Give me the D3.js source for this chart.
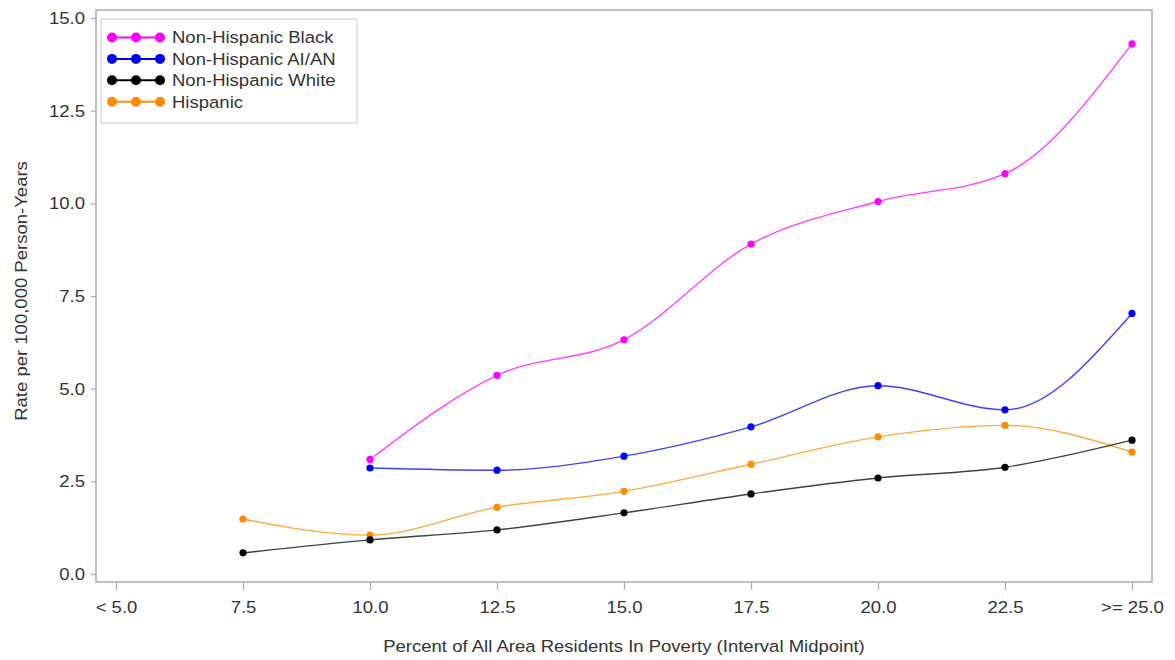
<!DOCTYPE html>
<html>
<head>
<meta charset="utf-8">
<script src="https://cdn.jsdelivr.net/npm/d3@7"></script>
<style>
  html, body { margin: 0; padding: 0; background: #fff; }
  svg { display: block; }
  text { font-family: "Liberation Sans", Arial, sans-serif; fill: #333; }
</style>
</head>
<body>
<svg id="chart" width="1175" height="660"></svg>
<script>
// Poverty interval midpoints (category labels on the x axis)
const categories = ["< 5.0", "7.5", "10.0", "12.5", "15.0", "17.5", "20.0", "22.5", ">= 25.0"];

// Rates per 100,000 person-years, one value per category (null = not reported)
const blackRates    = [null, null, 3.09, 5.36, 6.32, 8.90, 10.05, 10.80, 14.30];
const aianRates     = [null, null, 2.86, 2.80, 3.18, 3.97, 5.08, 4.43, 7.03];
const whiteRates    = [null, 0.57, 0.92, 1.19, 1.65, 2.16, 2.59, 2.88, 3.61];
const hispanicRates = [null, 1.48, 1.05, 1.80, 2.23, 2.96, 3.70, 4.01, 3.29];

const seriesNames  = ["Non-Hispanic Black", "Non-Hispanic AI/AN", "Non-Hispanic White", "Hispanic"];
const seriesValues = [blackRates, aianRates, whiteRates, hispanicRates];
const seriesColors = ["#ff00ff", "#0000ff", "#000000", "#ff8c00"];

const yTickValues = [0, 2.5, 5, 7.5, 10, 12.5, 15];

const xTitle = "Percent of All Area Residents In Poverty (Interval Midpoint)";
const yTitle = "Rate per 100,000 Person-Years";

// ---- layout ----
const frame = { left: 96, top: 10, right: 1152, bottom: 582 };
const stretch = 1.09; // horizontal glyph width factor for all labels
const fontSize = 17;

const svg = d3.select("#chart");

const x = d3.scalePoint()
  .domain(categories)
  .range([frame.left + 20, frame.right - 20]);

const y = d3.scaleLinear()
  .domain([0, 15])
  .range([frame.bottom - 8, frame.top + 8]);

// plot frame
svg.append("rect")
  .attr("x", frame.left).attr("y", frame.top)
  .attr("width", frame.right - frame.left)
  .attr("height", frame.bottom - frame.top)
  .attr("fill", "none")
  .attr("stroke", "#a9adb1")
  .attr("stroke-width", 1.5);

// y axis
const yAxis = d3.axisLeft(y)
  .tickValues(yTickValues)
  .tickFormat(d3.format(".1f"))
  .tickSize(5)
  .tickPadding(6);

const gy = svg.append("g")
  .attr("transform", `translate(${frame.left},0)`)
  .call(yAxis);
gy.select(".domain").remove();
gy.selectAll(".tick line").attr("stroke", "#a9adb1").attr("stroke-width", 1.2);
gy.selectAll(".tick text")
  .attr("font-size", fontSize)
  .attr("fill", "#333")
  .attr("font-family", "Liberation Sans, Arial, sans-serif")
  .each(function () {
    const t = d3.select(this);
    const xx = +t.attr("x");
    t.attr("x", null)
     .attr("transform", `translate(${xx},0) scale(${stretch},1)`);
  });

// x axis
const xAxis = d3.axisBottom(x)
  .tickSize(8)
  .tickPadding(11);

const gx = svg.append("g")
  .attr("transform", `translate(0,${frame.bottom})`)
  .call(xAxis);
gx.select(".domain").remove();
gx.selectAll(".tick line").attr("stroke", "#a9adb1").attr("stroke-width", 1.2);
gx.selectAll(".tick text")
  .attr("font-size", fontSize)
  .attr("fill", "#333")
  .attr("font-family", "Liberation Sans, Arial, sans-serif")
  .each(function () {
    const t = d3.select(this);
    const yy = +t.attr("y");
    t.attr("y", null)
     .attr("transform", `translate(0,${yy}) scale(${stretch},1)`);
  });

// axis titles
svg.append("text")
  .attr("text-anchor", "middle")
  .attr("font-size", fontSize)
  .attr("transform", `translate(${(frame.left + frame.right) / 2},652) scale(${stretch},1)`)
  .text(xTitle);

svg.append("text")
  .attr("text-anchor", "middle")
  .attr("font-size", fontSize)
  .attr("transform", `translate(27,291) rotate(-90) scale(${stretch},1)`)
  .text(yTitle);

// series lines and markers (drawn bottom-up so the first series sits on top)
const line = d3.line()
  .defined(d => d.v !== null)
  .x(d => x(d.c))
  .y(d => y(d.v))
  .curve(d3.curveMonotoneX);

const order = d3.range(seriesNames.length).reverse();
order.forEach(i => {
  const pts = categories.map((c, j) => ({ c, v: seriesValues[i][j] }));
  const g = svg.append("g");
  g.append("path")
    .datum(pts)
    .attr("fill", "none")
    .attr("stroke", seriesColors[i])
    .attr("stroke-width", 1.4)
    .attr("stroke-opacity", 0.75)
    .attr("d", line);
  g.selectAll("circle")
    .data(pts.filter(d => d.v !== null))
    .join("circle")
    .attr("cx", d => x(d.c))
    .attr("cy", d => y(d.v))
    .attr("r", 3.6)
    .attr("fill", seriesColors[i]);
});

// legend
const legend = svg.append("g");
legend.append("rect")
  .attr("x", 101).attr("y", 19)
  .attr("width", 256).attr("height", 104)
  .attr("fill", "#fff")
  .attr("stroke", "#c8cacc")
  .attr("stroke-width", 1);

seriesNames.forEach((name, i) => {
  const cy = 37.5 + i * 21.4;
  const row = legend.append("g");
  row.append("line")
    .attr("x1", 112).attr("x2", 160)
    .attr("y1", cy).attr("y2", cy)
    .attr("stroke", seriesColors[i])
    .attr("stroke-width", 2);
  [112, 136, 160].forEach(cx => {
    row.append("circle")
      .attr("cx", cx).attr("cy", cy).attr("r", 5)
      .attr("fill", seriesColors[i]);
  });
  row.append("text")
    .attr("font-size", fontSize)
    .attr("dy", "0.35em")
    .attr("transform", `translate(172,${cy}) scale(${stretch},1)`)
    .text(name);
});
</script>
</body>
</html>
